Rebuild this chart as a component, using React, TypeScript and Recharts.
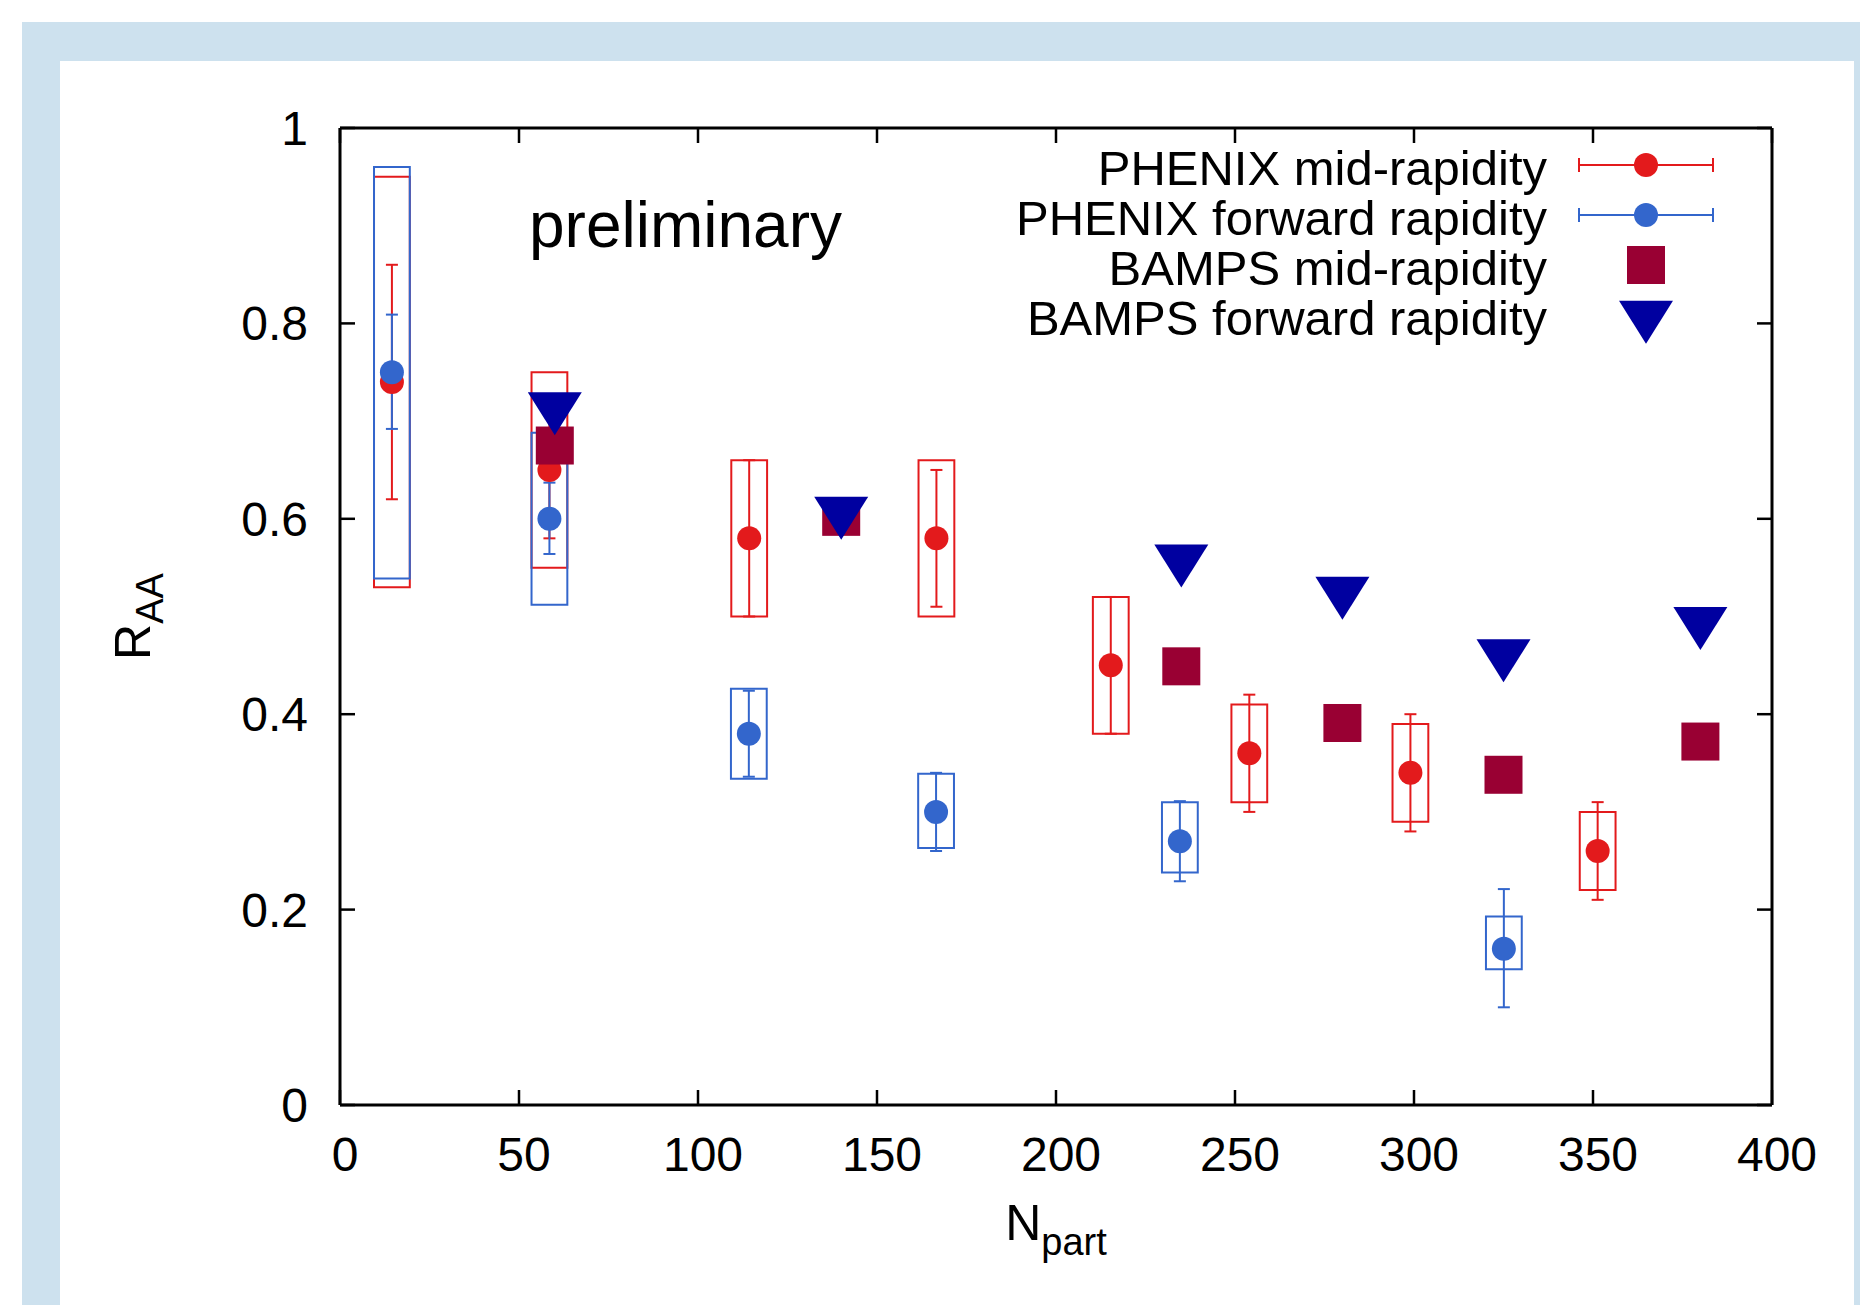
import React from 'react';
import { ScatterChart, Scatter, XAxis, YAxis, ErrorBar, ReferenceArea, Legend } from 'recharts';

// PHENIX mid-rapidity (red): point, stat. error range, syst. box range
const npartMid = [14.5, 58.5, 114.3, 166.6, 215.3, 254, 299, 351.3];
const raaMid = [0.74, 0.65, 0.58, 0.58, 0.45, 0.36, 0.34, 0.26];
const statLoMid = [0.62, 0.58, 0.5, 0.51, 0.38, 0.3, 0.28, 0.21];
const statHiMid = [0.86, 0.72, 0.66, 0.65, 0.52, 0.42, 0.4, 0.31];
const sysLoMid = [0.53, 0.55, 0.5, 0.5, 0.38, 0.31, 0.29, 0.22];
const sysHiMid = [0.95, 0.75, 0.66, 0.66, 0.52, 0.41, 0.39, 0.3];

// PHENIX forward rapidity (blue)
const npartFwd = [14.5, 58.5, 114.2, 166.5, 234.6, 325.1];
const raaFwd = [0.75, 0.6, 0.38, 0.3, 0.27, 0.16];
const statLoFwd = [0.692, 0.564, 0.336, 0.26, 0.229, 0.1];
const statHiFwd = [0.809, 0.637, 0.424, 0.34, 0.311, 0.221];
const sysLoFwd = [0.539, 0.512, 0.334, 0.263, 0.238, 0.139];
const sysHiFwd = [0.96, 0.688, 0.426, 0.339, 0.31, 0.193];

// BAMPS calculations
const npartBamps = [60, 140, 235, 280, 325, 380];
const bampsMid = [0.675, 0.602, 0.449, 0.391, 0.338, 0.372];
const bampsFwd = [0.715, 0.608, 0.559, 0.526, 0.462, 0.495];

const xTicks = [0, 50, 100, 150, 200, 250, 300, 350, 400];
const yTicks = [0, 0.2, 0.4, 0.6, 0.8, 1];

const legendNames = [
  'PHENIX mid-rapidity',
  'PHENIX forward rapidity',
  'BAMPS mid-rapidity',
  'BAMPS forward rapidity',
];

const RED = '#e31a1c';
const BLUE = '#3366cc';
const MAROON = '#990033';
const NAVY = '#0000a0';
const FONT = '"Liberation Sans", Arial, Helvetica, sans-serif';
const SYS_HALF = 5; // half width of systematic boxes in N_part units

const midData = npartMid.map((x, i) => ({
  x,
  y: raaMid[i],
  err: [raaMid[i] - statLoMid[i], statHiMid[i] - raaMid[i]],
}));
const fwdData = npartFwd.map((x, i) => ({
  x,
  y: raaFwd[i],
  err: [raaFwd[i] - statLoFwd[i], statHiFwd[i] - raaFwd[i]],
}));
const bampsMidData = npartBamps.map((x, i) => ({ x, y: bampsMid[i] }));
const bampsFwdData = npartBamps.map((x, i) => ({ x, y: bampsFwd[i] }));

const dot = (color: string) => (p: any) => <circle cx={p.cx} cy={p.cy} r={12} fill={color} />;
const square = (p: any) => <rect x={p.cx - 19} y={p.cy - 19} width={38} height={38} fill={MAROON} />;
const triangle = (p: any) => (
  <polygon
    points={`${p.cx - 27},${p.cy - 14.3} ${p.cx + 27},${p.cy - 14.3} ${p.cx},${p.cy + 28.7}`}
    fill={NAVY}
  />
);

// mirrored axes: keep the tick marks, drop the labels
const noLabel = () => <g />;

const XLabel = (props: any) => {
  const vb = props.viewBox;
  return (
    <text x={vb.x + vb.width / 2} y={vb.y + 135} textAnchor="middle" fontSize={50} fill="#000" fontFamily={FONT}>
      N<tspan dy={15} fontSize={38}>part</tspan>
    </text>
  );
};

const YLabel = (props: any) => {
  const vb = props.viewBox;
  const x = vb.x - 110;
  const y = vb.y + vb.height / 2;
  return (
    <text x={x} y={y} transform={`rotate(-90 ${x} ${y})`} textAnchor="middle" fontSize={50} fill="#000" fontFamily={FONT}>
      R<tspan dy={13} fontSize={38}>AA</tspan>
    </text>
  );
};

const legendSymbol = (i: number) => {
  if (i < 2) {
    const c = i === 0 ? RED : BLUE;
    return (
      <g>
        <line x1={1} y1={25} x2={135} y2={25} stroke={c} strokeWidth={2} />
        <line x1={1} y1={18} x2={1} y2={32} stroke={c} strokeWidth={2} />
        <line x1={135} y1={18} x2={135} y2={32} stroke={c} strokeWidth={2} />
        <circle cx={68} cy={25} r={12} fill={c} />
      </g>
    );
  }
  if (i === 2) return <rect x={49} y={6} width={38} height={38} fill={MAROON} />;
  return <polygon points="41,10.7 95,10.7 68,53.7" fill={NAVY} />;
};

const renderLegend = () => (
  <div style={{ fontFamily: FONT, fontSize: 49, color: '#000' }}>
    {legendNames.map((name, i) => (
      <div key={name} style={{ display: 'flex', height: 50, lineHeight: '50px', alignItems: 'center' }}>
        <div style={{ width: 547, textAlign: 'right', whiteSpace: 'nowrap' }}>{name}</div>
        <svg width={136} height={56} style={{ marginLeft: 31, overflow: 'visible' }}>
          {legendSymbol(i)}
        </svg>
      </div>
    ))}
  </div>
);

export default function App() {
  const tickStyle = { fontSize: 48, fill: '#000', fontFamily: FONT };
  const axisLine = { stroke: '#000', strokeWidth: 3 };
  const tickLine = { stroke: '#000', strokeWidth: 2.5 };
  return (
    <div style={{ position: 'absolute', left: 0, top: 0, width: 1860, height: 1305, background: '#fff', overflow: 'hidden' }}>
      <div style={{ position: 'absolute', left: 22, top: 22, right: 0, bottom: 0, background: '#cde1ee' }} />
      <div style={{ position: 'absolute', left: 60, top: 61, width: 1794, bottom: 0, background: '#fff' }} />
      <div style={{ position: 'absolute', left: 0, top: 0 }}>
        <ScatterChart width={1860} height={1305} margin={{ top: 127, right: 87, bottom: 140, left: 260 }}>
          <XAxis
            type="number"
            dataKey="x"
            domain={[0, 400]}
            ticks={xTicks}
            allowDataOverflow
            height={60}
            tickSize={-15}
            tickMargin={47}
            tick={{ ...tickStyle, dx: 5 }}
            axisLine={axisLine}
            tickLine={tickLine}
            label={{ content: XLabel }}
          />
          <XAxis
            xAxisId="top"
            orientation="top"
            type="number"
            dataKey="x"
            domain={[0, 400]}
            ticks={xTicks}
            allowDataOverflow
            height={1}
            tickSize={-15}
            tick={noLabel}
            axisLine={axisLine}
            tickLine={tickLine}
          />
          <YAxis
            type="number"
            dataKey="y"
            domain={[0, 1]}
            ticks={yTicks}
            allowDataOverflow
            width={80}
            tickSize={-15}
            tickMargin={47}
            tick={tickStyle}
            axisLine={axisLine}
            tickLine={tickLine}
            label={{ content: YLabel }}
          />
          <YAxis
            yAxisId="right"
            orientation="right"
            type="number"
            dataKey="y"
            domain={[0, 1]}
            ticks={yTicks}
            allowDataOverflow
            width={1}
            tickSize={-15}
            tick={noLabel}
            axisLine={axisLine}
            tickLine={tickLine}
          />
          {npartMid.map((x, i) => (
            <ReferenceArea
              key={`sm${i}`}
              x1={x - SYS_HALF}
              x2={x + SYS_HALF}
              y1={sysLoMid[i]}
              y2={sysHiMid[i]}
              fill="none"
              fillOpacity={0}
              stroke={RED}
              strokeWidth={2}
              ifOverflow="visible"
            />
          ))}
          {npartFwd.map((x, i) => (
            <ReferenceArea
              key={`sf${i}`}
              x1={x - SYS_HALF}
              x2={x + SYS_HALF}
              y1={sysLoFwd[i]}
              y2={sysHiFwd[i]}
              fill="none"
              fillOpacity={0}
              stroke={BLUE}
              strokeWidth={2}
              ifOverflow="visible"
            />
          ))}
          <Scatter name={legendNames[0]} data={midData} shape={dot(RED)} isAnimationActive={false}>
            <ErrorBar dataKey="err" direction="y" width={6} stroke={RED} strokeWidth={2} />
          </Scatter>
          <Scatter name={legendNames[1]} data={fwdData} shape={dot(BLUE)} isAnimationActive={false}>
            <ErrorBar dataKey="err" direction="y" width={6} stroke={BLUE} strokeWidth={2} />
          </Scatter>
          <Scatter name={legendNames[2]} data={bampsMidData} shape={square} isAnimationActive={false} />
          <Scatter name={legendNames[3]} data={bampsFwdData} shape={triangle} isAnimationActive={false} />
          <Legend
            layout="horizontal"
            verticalAlign="middle"
            align="center"
            content={renderLegend}
            wrapperStyle={{ left: 1000, top: 143, width: 760, height: 200 }}
          />
        </ScatterChart>
        <div
          style={{
            position: 'absolute',
            left: 529,
            top: 194,
            fontFamily: FONT,
            fontSize: 64,
            lineHeight: '63px',
            color: '#000',
            whiteSpace: 'nowrap',
          }}
        >
          preliminary
        </div>
      </div>
    </div>
  );
}
